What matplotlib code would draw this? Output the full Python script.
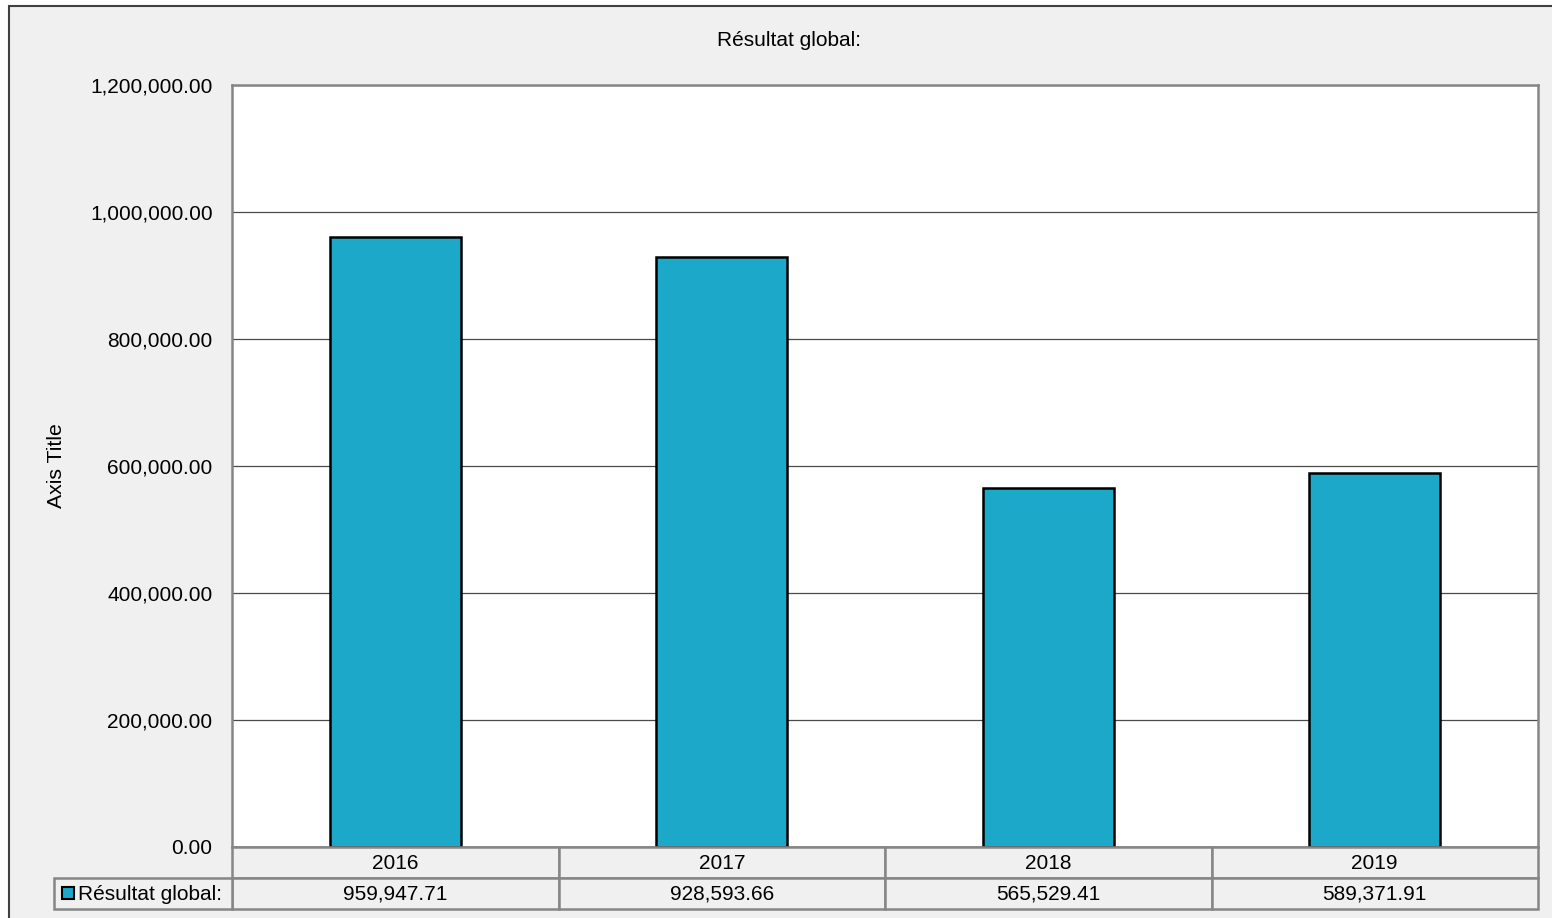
import matplotlib
matplotlib.use("Agg")
import matplotlib.pyplot as plt
from matplotlib.patches import Rectangle
from matplotlib.ticker import FuncFormatter
import matplotlib.transforms as mtransforms

plt.rcParams['font.family'] = ['Liberation Sans', 'DejaVu Sans']

categories = ["2016", "2017", "2018", "2019"]
values = [959947.71, 928593.66, 565529.41, 589371.91]
series_name = "Résultat global:"
title = "Résultat global:"
y_ticks = [0, 200000, 400000, 600000, 800000, 1000000, 1200000]

W, H = 1552, 918
fig = plt.figure(figsize=(W/100, H/100), dpi=100, facecolor='white')

def fx(px): return px / W
def fy(py): return 1 - py / H

FS = 15

# outer chart area
bg = Rectangle((fx(9), -0.05), 1.1, fy(6) + 0.05, transform=fig.transFigure,
               facecolor='#F0F0F0', edgecolor='#404040', linewidth=1.5, zorder=-10)
fig.patches.append(bg)

ax = fig.add_axes([fx(232), fy(847), fx(1538) - fx(232), fy(85) - fy(847)])
ax.set_zorder(1)
ax.set_facecolor('white')
x = list(range(len(categories)))
ax.bar(x, values, width=0.4, color='#1BA8C9', edgecolor='black', linewidth=1.8, zorder=3)
ax.set_xlim(-0.5, len(categories) - 0.5)
ax.set_ylim(0, 1200000)
ax.set_yticks(y_ticks)
ax.yaxis.set_major_formatter(FuncFormatter(lambda v, p: f"{v:,.2f}"))
ax.tick_params(axis='y', length=0, pad=14, labelsize=FS, colors='black')
ax.set_xticks([])
ax.grid(axis='y', color='#4a4a4a', linewidth=0.9, zorder=1)
for s in ax.spines.values():
    s.set_color('#868686')
    s.set_linewidth(1.8)

fig.text(fx(57), fy(466), "Axis Title", rotation=90, ha='center', va='center', fontsize=15.3)
fig.text(fx(789), fy(40), title, ha='center', va='center', fontsize=FS)

# data table
trans = mtransforms.blended_transform_factory(ax.transData, fig.transFigure)
row1_top, row1_bot = fy(847), fy(878)
row2_bot = fy(909)
gc = '#868686'
for i, (c, v) in enumerate(zip(categories, values)):
    fig.patches.append(Rectangle((i - 0.5, row1_bot), 1, row1_top - row1_bot, transform=trans,
                                 facecolor='#F0F0F0', edgecolor=gc, linewidth=1.8, zorder=2))
    fig.patches.append(Rectangle((i - 0.5, row2_bot), 1, row1_bot - row2_bot, transform=trans,
                                 facecolor='#F0F0F0', edgecolor=gc, linewidth=1.8, zorder=2))
    fig.text(i, (row1_top + row1_bot) / 2 - 0.001, c, transform=trans, ha='center', va='center', fontsize=FS, zorder=3)
    fig.text(i, (row1_bot + row2_bot) / 2 - 0.001, f"{v:,.2f}", transform=trans, ha='center', va='center', fontsize=FS, zorder=3)
# legend cell
fig.patches.append(Rectangle((fx(54), row2_bot), fx(232) - fx(54), row1_bot - row2_bot,
                             transform=fig.transFigure, facecolor='#F0F0F0', edgecolor=gc, linewidth=1.8, zorder=2))
fig.patches.append(Rectangle((fx(62), fy(899)), fx(74) - fx(62), fy(887) - fy(899),
                             transform=fig.transFigure, facecolor='#1BA8C9', edgecolor='black', linewidth=1.5, zorder=3))
fig.text(fx(78), (row1_bot + row2_bot) / 2 - 0.001, series_name, ha='left', va='center', fontsize=FS, zorder=3)

fig.savefig("out.png", dpi=100, facecolor='white')
